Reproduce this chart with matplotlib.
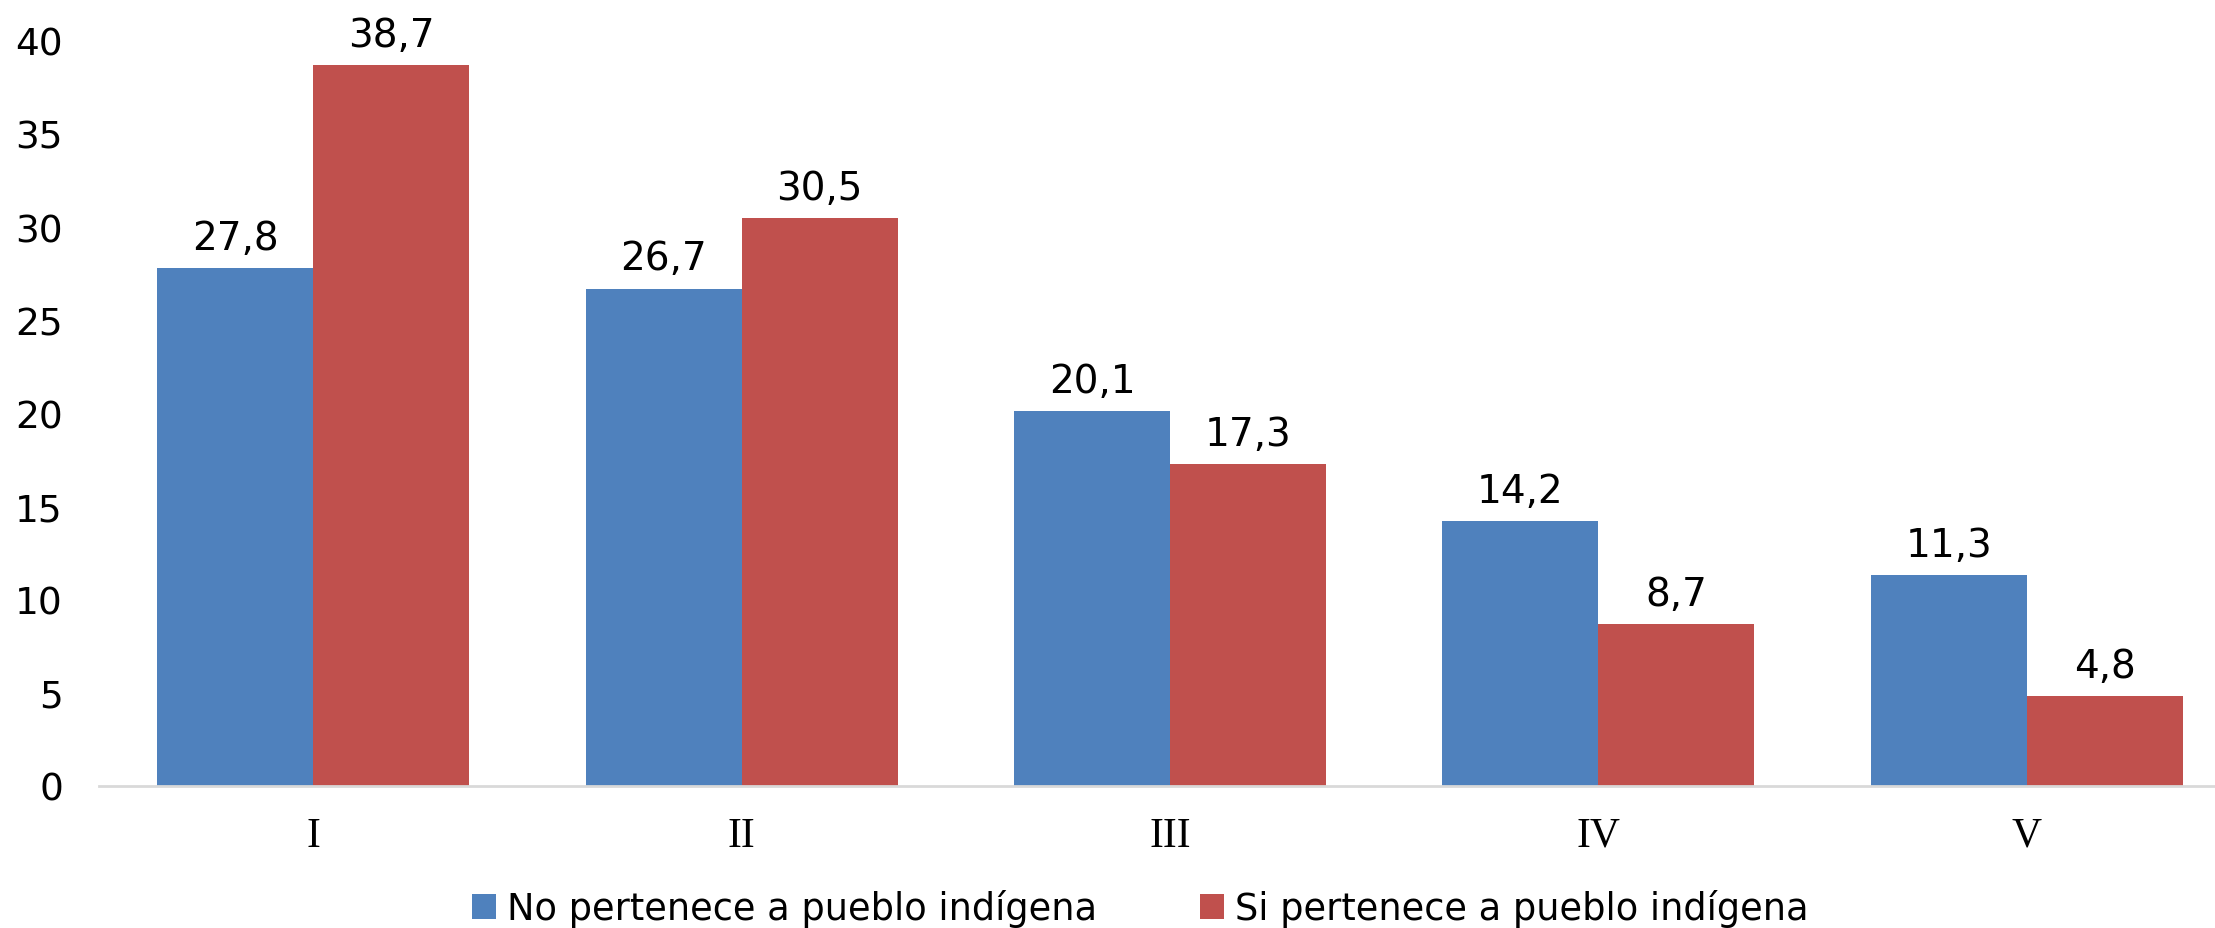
import matplotlib
matplotlib.use("Agg")
import matplotlib.pyplot as plt
import numpy as np

# quintiles and percentages
categorias = ["I", "II", "III", "IV", "V"]
no_indigena = [27.8, 26.7, 20.1, 14.2, 11.3]
si_indigena = [38.7, 30.5, 17.3, 8.7, 4.8]
serie_labels = ["No pertenece a pueblo indígena", "Si pertenece a pueblo indígena"]
yticks = [0, 5, 10, 15, 20, 25, 30, 35, 40]

azul = "#4F81BD"
rojo = "#C0504D"

plt.rcParams['font.family'] = ['DejaVu Sans']

fig = plt.figure(figsize=(22.15, 9.29), dpi=100)
# plot area runs a bit past the right edge, like the original
ax = fig.add_axes([0.0447, 0.153, 0.967, 0.802])

x = np.arange(len(categorias))
w = 0.364
b1 = ax.bar(x - w/2, no_indigena, w, color=azul, label=serie_labels[0])
b2 = ax.bar(x + w/2, si_indigena, w, color=rojo, label=serie_labels[1])

def fmt(v):
    return f"{v:.1f}".replace(".", ",")

for bars, vals in [(b1, no_indigena), (b2, si_indigena)]:
    for r, v in zip(bars, vals):
        ax.annotate(fmt(v), (r.get_x() + r.get_width()/2, v), xytext=(0, 8),
                    textcoords="offset points", ha="center", va="bottom", fontsize=28)

ax.set_xlim(-0.5, len(categorias) - 0.5)
ax.set_ylim(0, 40)
ax.set_yticks(yticks)
ax.set_yticklabels([str(t) for t in yticks], fontsize=27)
ax.set_xticks(x)
ax.set_xticklabels(categorias, fontsize=30, family='Liberation Serif')
ax.tick_params(axis='both', length=0)
ax.tick_params(axis='x', pad=22)
ax.tick_params(axis='y', pad=26)

for s in ['top', 'right', 'left']:
    ax.spines[s].set_visible(False)
ax.spines['bottom'].set_color('#D9D9D9')
ax.spines['bottom'].set_linewidth(2)

fig.legend(loc='center', bbox_to_anchor=(0.5147, 0.021), ncol=2, frameon=False,
           fontsize=26.5, handlelength=0.65, handleheight=0.65, handletextpad=0.3,
           columnspacing=2.8)

plt.savefig("out.png", dpi=100)
